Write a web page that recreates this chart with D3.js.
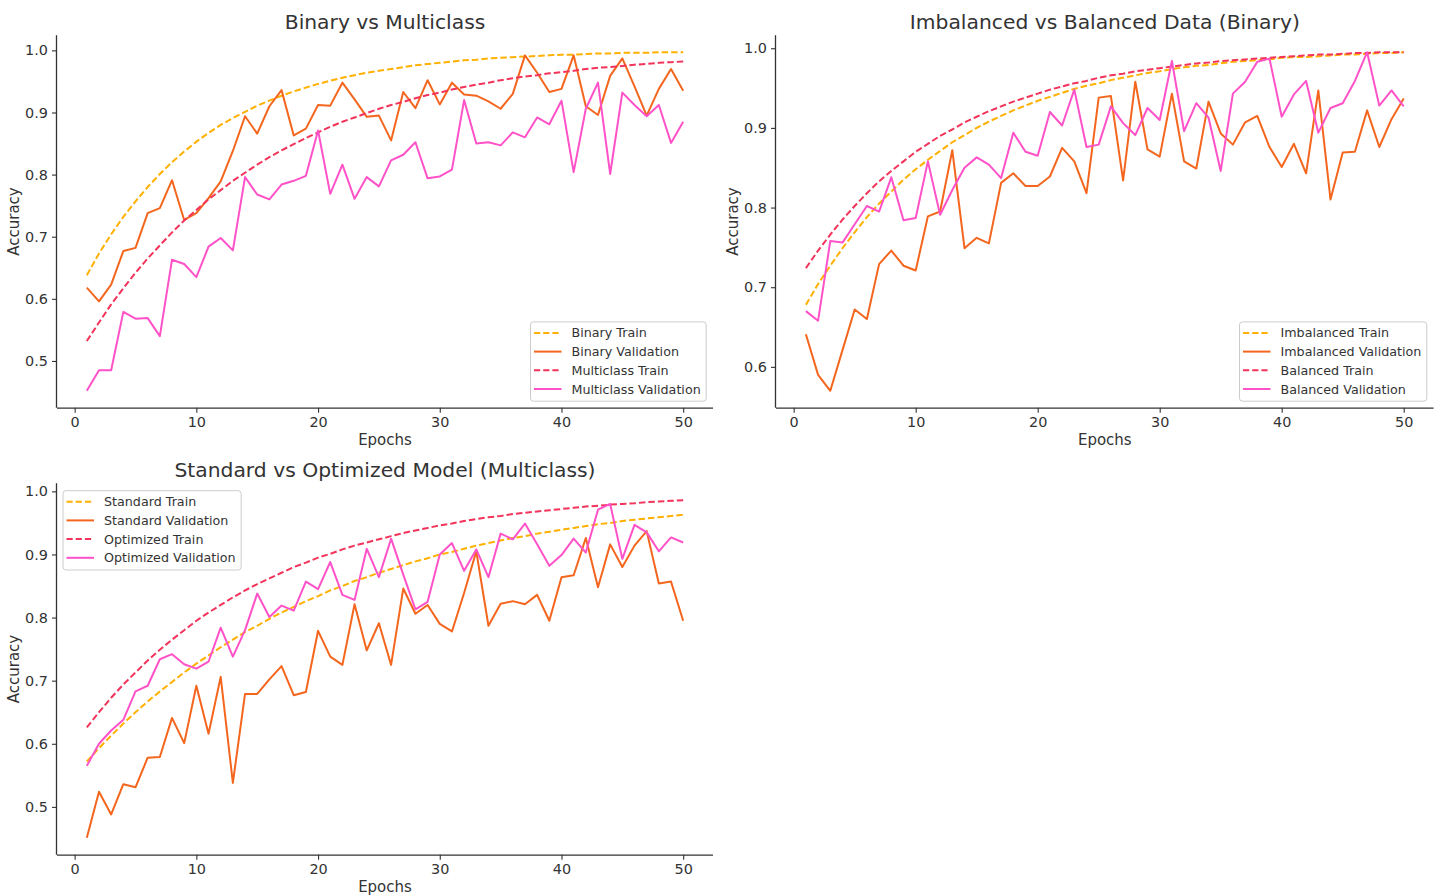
<!DOCTYPE html>
<html>
<head>
<meta charset="utf-8">
<script src="https://cdn.jsdelivr.net/npm/d3@7"></script>
<style>
  html, body { margin: 0; padding: 0; background: #fff; }
  svg { display: block; font-family: "DejaVu Sans", sans-serif; }
</style>
</head>
<body>
<svg id="chart" width="1437" height="896"></svg>
<script>
// ---------- data ----------
const epochs = d3.range(1, 51);
const xTicks = [0, 10, 20, 30, 40, 50];

const binaryTrain = [
  0.638,0.673,0.704,0.732,0.757,0.780,0.801,0.820,0.837,0.853,
  0.867,0.880,0.891,0.901,0.911,0.919,0.927,0.934,0.940,0.946,
  0.951,0.956,0.960,0.964,0.967,0.970,0.973,0.976,0.978,0.980,
  0.982,0.984,0.985,0.987,0.988,0.989,0.990,0.991,0.992,0.993,
  0.993,0.994,0.995,0.995,0.996,0.996,0.996,0.997,0.997,0.997];
const binaryVal = [
  0.618,0.596,0.623,0.677,0.682,0.738,0.746,0.791,0.727,0.738,
  0.762,0.789,0.838,0.894,0.866,0.910,0.936,0.863,0.874,0.912,
  0.911,0.948,0.921,0.893,0.895,0.855,0.933,0.907,0.952,0.913,
  0.948,0.929,0.927,0.918,0.906,0.930,0.992,0.964,0.933,0.938,
  0.992,0.910,0.896,0.959,0.987,0.942,0.895,0.938,0.970,0.935];
const multiTrain = [
  0.532,0.562,0.591,0.617,0.642,0.665,0.686,0.707,0.726,0.743,
  0.760,0.775,0.790,0.803,0.816,0.828,0.839,0.849,0.859,0.868,
  0.877,0.885,0.892,0.899,0.906,0.912,0.917,0.923,0.928,0.932,
  0.937,0.941,0.945,0.948,0.952,0.955,0.958,0.960,0.963,0.965,
  0.967,0.970,0.972,0.973,0.975,0.977,0.978,0.980,0.981,0.982];
const multiVal = [
  0.452,0.485,0.485,0.579,0.568,0.569,0.540,0.663,0.656,0.635,
  0.684,0.698,0.678,0.796,0.768,0.760,0.784,0.790,0.798,0.871,
  0.769,0.816,0.761,0.796,0.781,0.823,0.832,0.852,0.794,0.797,
  0.808,0.920,0.850,0.852,0.847,0.868,0.860,0.892,0.881,0.919,
  0.804,0.906,0.948,0.801,0.932,0.912,0.894,0.912,0.851,0.885];

const imbTrain = [
  0.678,0.704,0.727,0.749,0.769,0.788,0.805,0.820,0.835,0.848,
  0.860,0.871,0.882,0.891,0.900,0.908,0.915,0.922,0.928,0.934,
  0.939,0.944,0.949,0.953,0.956,0.960,0.963,0.966,0.969,0.971,
  0.974,0.976,0.978,0.979,0.981,0.983,0.984,0.985,0.986,0.988,
  0.989,0.989,0.990,0.991,0.992,0.992,0.993,0.994,0.994,0.995];
const imbVal = [
  0.641,0.590,0.570,0.621,0.672,0.660,0.729,0.746,0.727,0.721,
  0.789,0.795,0.872,0.749,0.762,0.755,0.831,0.843,0.827,0.827,
  0.839,0.875,0.858,0.818,0.938,0.940,0.834,0.958,0.873,0.864,
  0.943,0.858,0.849,0.933,0.893,0.879,0.907,0.915,0.876,0.851,
  0.880,0.843,0.947,0.810,0.869,0.870,0.922,0.876,0.911,0.937];
const balTrain = [
  0.724,0.746,0.766,0.785,0.802,0.818,0.833,0.846,0.858,0.870,
  0.880,0.890,0.898,0.907,0.914,0.921,0.927,0.933,0.938,0.943,
  0.948,0.952,0.956,0.959,0.963,0.966,0.968,0.971,0.973,0.975,
  0.977,0.979,0.981,0.982,0.984,0.985,0.986,0.987,0.988,0.989,
  0.990,0.991,0.992,0.992,0.993,0.994,0.994,0.995,0.995,0.995];
const balVal = [
  0.670,0.658,0.758,0.756,0.779,0.802,0.795,0.838,0.784,0.787,
  0.858,0.791,0.822,0.850,0.863,0.854,0.837,0.894,0.870,0.865,
  0.920,0.903,0.948,0.876,0.879,0.927,0.906,0.891,0.925,0.910,
  0.984,0.896,0.931,0.913,0.846,0.943,0.958,0.983,0.987,0.914,
  0.942,0.959,0.894,0.925,0.931,0.959,0.995,0.928,0.947,0.927];

const stdTrain = [
  0.572,0.593,0.613,0.632,0.650,0.667,0.683,0.698,0.713,0.727,
  0.740,0.753,0.765,0.777,0.787,0.798,0.808,0.817,0.826,0.834,
  0.843,0.850,0.858,0.864,0.871,0.877,0.883,0.889,0.894,0.900,
  0.904,0.909,0.914,0.918,0.922,0.926,0.929,0.933,0.936,0.939,
  0.942,0.945,0.948,0.950,0.953,0.955,0.957,0.959,0.961,0.963];
const stdVal = [
  0.451,0.524,0.488,0.536,0.531,0.578,0.579,0.641,0.601,0.692,
  0.616,0.706,0.538,0.679,0.679,0.702,0.723,0.677,0.682,0.779,
  0.738,0.725,0.821,0.748,0.791,0.725,0.846,0.806,0.820,0.790,
  0.778,0.839,0.905,0.787,0.822,0.826,0.821,0.836,0.795,0.864,
  0.867,0.926,0.848,0.916,0.880,0.914,0.937,0.854,0.857,0.795];
const optTrain = [
  0.626,0.650,0.673,0.694,0.713,0.732,0.749,0.765,0.780,0.795,
  0.808,0.820,0.832,0.843,0.853,0.862,0.871,0.880,0.887,0.895,
  0.901,0.908,0.914,0.919,0.924,0.929,0.934,0.938,0.942,0.946,
  0.949,0.953,0.956,0.959,0.961,0.964,0.966,0.968,0.970,0.972,
  0.974,0.976,0.977,0.979,0.980,0.981,0.983,0.984,0.985,0.986];
const optVal = [
  0.565,0.600,0.621,0.638,0.683,0.692,0.734,0.742,0.726,0.719,
  0.730,0.784,0.738,0.780,0.838,0.801,0.819,0.811,0.857,0.845,
  0.888,0.836,0.828,0.909,0.864,0.925,0.868,0.813,0.825,0.900,
  0.918,0.874,0.908,0.864,0.933,0.924,0.949,0.916,0.882,0.899,
  0.925,0.903,0.971,0.980,0.893,0.947,0.935,0.905,0.927,0.919];

const panel1Labels = ["Binary Train", "Binary Validation", "Multiclass Train", "Multiclass Validation"];
const panel2Labels = ["Imbalanced Train", "Imbalanced Validation", "Balanced Train", "Balanced Validation"];
const panel3Labels = ["Standard Train", "Standard Validation", "Optimized Train", "Optimized Validation"];

// ---------- styles ----------
const COLORS = ["#FFB000", "#F4661E", "#F2335A", "#FF52C8"];
const DASHED = [true, false, true, false];
const TEXT = "#333333";

const panels = [
  { title: "Binary vs Multiclass", box: [57, 35.3, 713, 407.7],
    series: [binaryTrain, binaryVal, multiTrain, multiVal], labels: panel1Labels,
    yTicks: [0.5, 0.6, 0.7, 0.8, 0.9, 1.0], legend: "lower right" },
  { title: "Imbalanced vs Balanced Data (Binary)", box: [776, 35.3, 1433.6, 407.7],
    series: [imbTrain, imbVal, balTrain, balVal], labels: panel2Labels,
    yTicks: [0.6, 0.7, 0.8, 0.9, 1.0], legend: "lower right" },
  { title: "Standard vs Optimized Model (Multiclass)", box: [57, 483.3, 713, 854.7],
    series: [stdTrain, stdVal, optTrain, optVal], labels: panel3Labels,
    yTicks: [0.5, 0.6, 0.7, 0.8, 0.9, 1.0], legend: "upper left" }
];

const svg = d3.select("#chart");

panels.forEach(p => {
  const [x0, y0, x1, y1] = p.box;
  const xMin = d3.min(epochs), xMax = d3.max(epochs);
  const xPad = (xMax - xMin) * 0.05;
  const all = p.series.flat();
  const yMin = d3.min(all), yMax = d3.max(all);
  const yPad = (yMax - yMin) * 0.05;

  const x = d3.scaleLinear().domain([xMin - xPad, xMax + xPad]).range([x0, x1]);
  const y = d3.scaleLinear().domain([yMin - yPad, yMax + yPad]).range([y1, y0]);

  const g = svg.append("g");

  // lines
  const line = d3.line().x((d, i) => x(epochs[i])).y(d => y(d));
  p.series.forEach((s, k) => {
    g.append("path")
      .datum(s)
      .attr("d", line)
      .attr("fill", "none")
      .attr("stroke", COLORS[k])
      .attr("stroke-width", 2)
      .attr("stroke-linejoin", "round")
      .attr("stroke-dasharray", DASHED[k] ? "6.5,3" : null);
  });

  // axes
  const xAxis = d3.axisBottom(x).tickValues(xTicks).tickSize(5).tickPadding(4).tickFormat(d3.format("d"));
  const yAxis = d3.axisLeft(y).tickValues(p.yTicks).tickSize(5).tickPadding(4).tickFormat(d3.format(".1f"));

  const gx = g.append("g").attr("transform", `translate(0,${y1})`).call(xAxis);
  const gy = g.append("g").attr("transform", `translate(${x0},0)`).call(yAxis);
  [gx, gy].forEach(a => {
    a.select(".domain").attr("stroke", TEXT).attr("stroke-width", 1.3);
    a.selectAll(".tick line").attr("stroke", TEXT).attr("stroke-width", 1.1);
    a.selectAll(".tick text").attr("fill", TEXT).style("font-size", "14.4px")
      .style("font-family", "DejaVu Sans, sans-serif");
  });
  gx.select(".domain").attr("d", `M${x0},0.5H${x1}`);
  gy.select(".domain").attr("d", `M-0.5,${y0}V${y1}`);

  // labels
  g.append("text")
    .attr("x", (x0 + x1) / 2).attr("y", y1 + 37)
    .attr("text-anchor", "middle").attr("fill", TEXT)
    .style("font-size", "15px").text("Epochs");
  g.append("text")
    .attr("transform", `translate(${x0 - 38},${(y0 + y1) / 2}) rotate(-90)`)
    .attr("text-anchor", "middle").attr("fill", TEXT)
    .style("font-size", "15px").text("Accuracy");
  g.append("text")
    .attr("x", (x0 + x1) / 2).attr("y", y0 - 6)
    .attr("text-anchor", "middle").attr("fill", TEXT)
    .style("font-size", "20.3px").text(p.title);

  // legend
  const lg = g.append("g");
  const rowH = 18.7;
  const frame = lg.append("rect")
    .attr("fill", "white").attr("fill-opacity", 0.8)
    .attr("stroke", "#cccccc").attr("stroke-width", 1)
    .attr("rx", 3).attr("ry", 3);
  let maxW = 0;
  p.labels.forEach((lab, k) => {
    const cy = 11 + k * rowH;
    lg.append("line")
      .attr("x1", 3.5).attr("x2", 31).attr("y1", cy).attr("y2", cy)
      .attr("stroke", COLORS[k]).attr("stroke-width", 2)
      .attr("stroke-dasharray", DASHED[k] ? "6.2,3" : null);
    const t = lg.append("text")
      .attr("x", 41).attr("y", cy).attr("dy", "0.36em")
      .attr("fill", TEXT).style("font-size", "12.7px").text(lab);
    maxW = Math.max(maxW, t.node().getComputedTextLength());
  });
  const lw = 41 + maxW + 5.5;
  const lh = 79.3;
  frame.attr("width", lw).attr("height", lh);
  let lx, ly;
  if (p.legend === "lower right") { lx = x1 - 6.8 - lw; ly = y1 - 6.5 - lh; }
  else { lx = x0 + 6; ly = y0 + 7.4; }
  lg.attr("transform", `translate(${lx},${ly})`);
});
</script>
</body>
</html>
